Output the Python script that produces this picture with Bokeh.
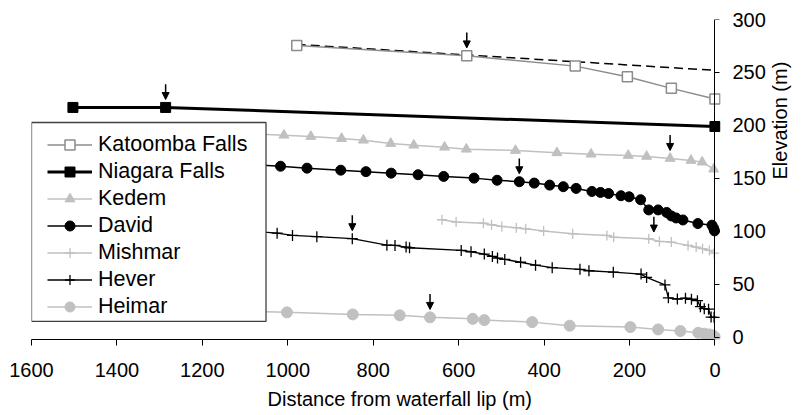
import math
import numpy as np
from bokeh.plotting import figure
from bokeh.models import (Range1d, FixedTicker, LinearAxis, Legend, LegendItem, Grid,
                          Arrow, NormalHead, BoxAnnotation, Title)
from bokeh.embed import file_html
from bokeh.resources import INLINE

# ---------------- data (distance from lip in m, elevation in m) ----------------
katoomba_x = [979, 581, 327, 205, 102, 0]
katoomba_y = [275.5, 265.7, 256, 246, 235, 225]
trend_x = [979, 0]
trend_y = [276.5, 252]
niagara_x = [1503, 1286, 0]
niagara_y = [217, 217, 199]
kedem_x = [1075, 1009, 946, 874, 823, 759, 705, 633, 582, 467, 370, 290, 203, 160, 105, 56, 30, 3]
kedem_y = [192, 190.8, 189.6, 187.7, 186.1, 183, 181.4, 179.5, 177.6, 176.4, 174.2, 172.9, 171.7,
           170.8, 168.9, 167, 165.4, 158.8]
david_x = [1080, 1017, 955, 876, 817, 758, 695, 635, 564, 510, 458, 423, 387, 355, 325, 288, 268,
           249, 220, 201, 174, 155, 133, 113, 102, 91, 75, 40, 7, 3, 1]
david_y = [163, 161.5, 159.7, 157.8, 156.4, 155, 153.5, 151.9, 150.3, 148.3, 146.9, 145.6, 143.7,
           142.2, 140.6, 137.7, 136.8, 135.8, 133.7, 132.7, 129.9, 120.3, 120.3, 117.9, 114.6, 112.7,
           110.8, 107.4, 105.9, 103, 100.5]
mishmar_x = [639, 606, 542, 523, 499, 465, 443, 401, 333, 253, 237, 155, 130, 102, 63, 44, 29, 13, 2]
mishmar_y = [111.0, 108.8, 107.8, 106.3, 104.7, 103.5, 102.5, 100.3, 97.8, 96.2, 94.6, 93.1, 90.6,
             89.9, 86.8, 85.2, 83.7, 82.1, 79.5]
hever_x = [1080, 1025, 989, 932, 849, 768, 749, 723, 715, 594, 571, 540, 521, 509, 492, 455, 420,
           381, 316, 295, 238, 173, 160, 117, 109, 88, 69, 55, 41, 34, 25, 15, 9, 2]
hever_y = [100, 98.3, 96.2, 95, 93.2, 87, 86.8, 85.2, 84.6, 82.1, 80.8, 78.6, 76.4, 74.8, 73.6, 70.9,
           68.1, 65.8, 64.2, 62.9, 61.5, 59.7, 56.6, 49.5, 37.3, 36.2, 37, 36, 34.6, 29, 27.1, 26.6,
           19.2, 18.9]
heimar_x = [1080, 1002, 848, 738, 667, 567, 540, 428, 340, 198, 133, 81, 39, 25, 13, 5, 0]
heimar_y = [24.5, 23.6, 21.7, 20.8, 18.9, 17.5, 16.3, 14.4, 11, 9.7, 7.5, 6, 4.4, 3.5, 2.8, 1.9, 0.3]

# arrows mark one location on each profile
arrow_series = ["Katoomba Falls", "Niagara Falls", "Kedem", "David", "Mishmar", "Hever", "Heimar"]
arrow_x = [581, 1286, 105, 458, 143, 849, 667]

x_ticks = [0, 200, 400, 600, 800, 1000, 1200, 1400, 1600]
y_ticks = [0, 50, 100, 150, 200, 250, 300]

FONT = "Liberation Sans"
GRAY = "#8c8c8c"
LIGHT = "#c0c0c0"

p = figure(width=804, height=415, x_range=Range1d(1600, -13), y_range=Range1d(-2, 300),
           output_backend="svg", toolbar_location=None,
           x_axis_location=None, y_axis_location=None,
           min_border_left=31, min_border_right=80, min_border_top=19, min_border_bottom=76)
p.outline_line_color = None
p.background_fill_color = "white"
p.center = [r for r in p.center if not isinstance(r, Grid)]

# series
p.line(trend_x, trend_y, line_color="black", line_width=1.5, line_dash="9 5")

k_l = p.line(katoomba_x, katoomba_y, line_color=GRAY, line_width=1.5)
k_m = p.scatter(katoomba_x, katoomba_y, marker="square", size=10, fill_color="white",
                line_color=GRAY, line_width=1.5)
n_l = p.line(niagara_x, niagara_y, line_color="black", line_width=3)
n_m = p.scatter(niagara_x, niagara_y, marker="square", size=10, fill_color="black", line_color="black")
ke_l = p.line(kedem_x, kedem_y, line_color=LIGHT, line_width=1.5)
ke_m = p.scatter(kedem_x, kedem_y, marker="triangle", size=10, fill_color=LIGHT, line_color=LIGHT)
d_l = p.line(david_x, david_y, line_color="black", line_width=1.5)
d_m = p.scatter(david_x, david_y, marker="circle", size=10, fill_color="black", line_color="black")
m_l = p.line(mishmar_x, mishmar_y, line_color=LIGHT, line_width=1.5)
m_m = p.scatter(mishmar_x, mishmar_y, marker="cross", size=10, line_color=LIGHT, line_width=1.3)
h_l = p.line(hever_x, hever_y, line_color="black", line_width=1.3)
h_m = p.scatter(hever_x, hever_y, marker="cross", size=11, line_color="black", line_width=1.3)
he_l = p.line(heimar_x, heimar_y, line_color=LIGHT, line_width=1.5)
he_m = p.scatter(heimar_x, heimar_y, marker="circle", size=11, fill_color=LIGHT, line_color=LIGHT)

# axes
def style(ax):
    ax.major_label_text_font = FONT
    ax.major_label_text_font_size = "20px"
    ax.major_label_text_color = "black"
    ax.axis_line_color = "black"
    ax.major_tick_line_color = "black"
    ax.major_tick_in = 0
    ax.minor_tick_line_color = None
    ax.axis_label_text_font = FONT
    ax.axis_label_text_font_size = "20px"
    ax.axis_label_text_font_style = "normal"
    ax.axis_label_text_color = "black"

xaxis = LinearAxis(ticker=FixedTicker(ticks=x_ticks), bounds=(0, 1600))
style(xaxis)
xaxis.major_tick_out = 6
xaxis.major_label_standoff = 17
p.add_layout(xaxis, "below")

# y axis line + ticks at distance 0
yline = LinearAxis(ticker=FixedTicker(ticks=y_ticks), bounds=(0, 300), fixed_location=0)
style(yline)
yline.major_tick_out = 5
yline.major_label_text_color = None
p.add_layout(yline, "right")

# y tick labels + title
ylab = LinearAxis(ticker=FixedTicker(ticks=y_ticks), axis_label="Elevation (m)")
style(ylab)
ylab.axis_line_color = None
ylab.major_tick_line_color = None
ylab.major_tick_out = 0
ylab.major_label_standoff = 12
ylab.axis_label_standoff = 11
try:
    ylab.axis_label_orientation = math.pi / 2
except Exception:
    pass
p.add_layout(ylab, "right")

p.add_layout(Title(text="Distance from waterfall lip (m)", align="left", offset=236,
                   text_font=FONT, text_font_size="20px", text_font_style="normal",
                   text_color="black", standoff=12), "below")

# arrows
series = {
    "Katoomba Falls": (katoomba_x, katoomba_y), "Niagara Falls": (niagara_x, niagara_y),
    "Kedem": (kedem_x, kedem_y), "David": (david_x, david_y), "Mishmar": (mishmar_x, mishmar_y),
    "Hever": (hever_x, hever_y), "Heimar": (heimar_x, heimar_y),
}
for name, ax_x in zip(arrow_series, arrow_x):
    xs, ys = series[name]
    yv = float(np.interp(ax_x, xs[::-1], ys[::-1]))
    p.add_layout(Arrow(end=NormalHead(size=7, fill_color="black", line_color="black"),
                       x_start=ax_x, y_start=yv + 22, x_end=ax_x, y_end=yv + 7.5,
                       line_color="black", line_width=1.5))

# legend box + legend
p.add_layout(BoxAnnotation(left=1600, right=1051, top=202.8, bottom=15.1, fill_color="white",
                           fill_alpha=1, line_color="#404040", line_width=1.3, line_alpha=1))
legend = Legend(items=[
    LegendItem(label="Katoomba Falls", renderers=[k_l, k_m]),
    LegendItem(label="Niagara Falls", renderers=[n_l, n_m]),
    LegendItem(label="Kedem", renderers=[ke_l, ke_m]),
    LegendItem(label="David", renderers=[d_l, d_m]),
    LegendItem(label="Mishmar", renderers=[m_l, m_m]),
    LegendItem(label="Hever", renderers=[h_l, h_m]),
    LegendItem(label="Heimar", renderers=[he_l, he_m]),
], location=(16, 20), padding=0, spacing=2, glyph_width=45, glyph_height=25, label_height=25,
    label_standoff=6, label_text_font=FONT, label_text_font_size="21.5px",
    label_text_color="black", border_line_alpha=0, background_fill_alpha=0, margin=0)
p.add_layout(legend)

open("out.html", "w").write(file_html(p, INLINE))
